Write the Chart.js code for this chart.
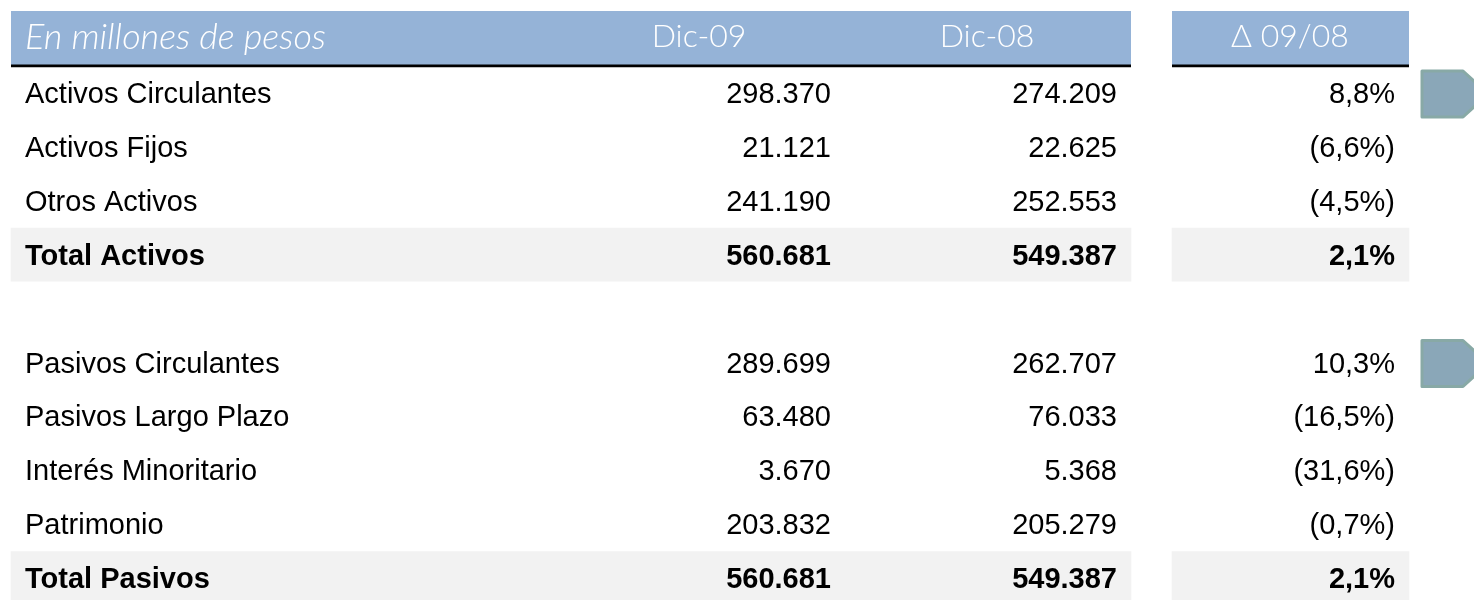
<!DOCTYPE html>
<html>
<head>
<meta charset="utf-8">
<script src="https://cdn.jsdelivr.net/npm/chart.js@4.4.1/dist/chart.umd.min.js"></script>
<style>
  html, body { margin: 0; padding: 0; background: #fff; }
  #wrap { width: 1474px; height: 600px; }
</style>
</head>
<body>
<div id="wrap"><canvas id="table" width="1474" height="600"></canvas></div>
<script>
// table content
const headerLabels = ['En millones de pesos', 'Dic-09', 'Dic-08', '\u0394 09/08'];
const rowLabels = [
  'Activos Circulantes', 'Activos Fijos', 'Otros Activos', 'Total Activos', '',
  'Pasivos Circulantes', 'Pasivos Largo Plazo', 'Interés Minoritario', 'Patrimonio', 'Total Pasivos'
];
const dic09 = [298370, 21121, 241190, 560681, null, 289699, 63480, 3670, 203832, 560681];
const dic08 = [274209, 22625, 252553, 549387, null, 262707, 76033, 5368, 205279, 549387];
const delta = [8.8, -6.6, -4.5, 2.1, null, 10.3, -16.5, -31.6, -0.7, 2.1];
const totalRows = ['Total Activos', 'Total Pasivos'];
const markerRows = ['Activos Circulantes', 'Pasivos Circulantes'];

// layout (x scale runs in pixel-like units, y scale in row units)
const SPAN_MAIN = [11, 1131];
const SPAN_DELTA = [1172, 1409];
const X_LABEL = 25;
const X_DIC09 = 831;
const X_DIC08 = 1117;
const X_DELTA = 1395;
const HEAD_CENTER = { dic09: 699, dic08: 987, delta: 1290 };

const rowPos = (i) => i + 1; // row 0 is the header
const fmtNum = (n) => String(n).replace(/\B(?=(\d{3})+(?!\d))/g, '.');
const fmtPct = (v) => {
  const s = Math.abs(v).toFixed(1).replace('.', ',') + '%';
  return v < 0 ? `(${s})` : s;
};

const totalBands = [];
rowLabels.forEach((label, i) => {
  if (totalRows.includes(label)) {
    totalBands.push({ x: SPAN_MAIN, y: rowPos(i) });
    totalBands.push({ x: SPAN_DELTA, y: rowPos(i) });
  }
});

const tableText = {
  id: 'tableText',
  afterDatasetsDraw(chart) {
    const { ctx, scales: { x, y } } = chart;
    ctx.save();

    // header
    const hy = y.getPixelForValue(0) - 2;
    ctx.fillStyle = '#ffffff';
    ctx.textBaseline = 'middle';
    ctx.textAlign = 'left';
    ctx.font = 'italic 300 36px Lato, "Open Sans", sans-serif';
    ctx.fillText(headerLabels[0], x.getPixelForValue(X_LABEL), hy);
    ctx.textAlign = 'center';
    ctx.font = '300 32px Lato, "Open Sans", sans-serif';
    ctx.fillText(headerLabels[1], x.getPixelForValue(HEAD_CENTER.dic09), hy);
    ctx.fillText(headerLabels[2], x.getPixelForValue(HEAD_CENTER.dic08), hy);
    ctx.fillText(headerLabels[3], x.getPixelForValue(HEAD_CENTER.delta), hy);

    // body rows
    ctx.fillStyle = '#000000';
    rowLabels.forEach((label, i) => {
      if (!label) return;
      const py = y.getPixelForValue(rowPos(i)) + 2;
      const bold = totalRows.includes(label);
      ctx.font = (bold ? 'bold ' : '') + '29px "Liberation Sans", Arial, sans-serif';
      ctx.textAlign = 'left';
      ctx.fillText(label, x.getPixelForValue(X_LABEL), py);
      ctx.textAlign = 'right';
      ctx.fillText(fmtNum(dic09[i]), x.getPixelForValue(X_DIC09), py);
      ctx.fillText(fmtNum(dic08[i]), x.getPixelForValue(X_DIC08), py);
      ctx.fillText(fmtPct(delta[i]), x.getPixelForValue(X_DELTA), py);
    });

    // side markers
    ctx.fillStyle = '#8aa7b8';
    ctx.strokeStyle = '#88a9a6';
    ctx.lineWidth = 3;
    ctx.lineJoin = 'round';
    markerRows.forEach((label) => {
      const cy = y.getPixelForValue(rowPos(rowLabels.indexOf(label))) + 1;
      const l = x.getPixelForValue(1422);
      const s = x.getPixelForValue(1463);
      const t = x.getPixelForValue(1488);
      ctx.beginPath();
      ctx.moveTo(l, cy - 23);
      ctx.lineTo(s, cy - 23);
      ctx.lineTo(t, cy);
      ctx.lineTo(s, cy + 23);
      ctx.lineTo(l, cy + 23);
      ctx.closePath();
      ctx.fill();
      ctx.stroke();
    });
    ctx.restore();
  }
};

new Chart(document.getElementById('table'), {
  type: 'bar',
  data: {
    datasets: [
      {
        label: 'header',
        data: [{ x: SPAN_MAIN, y: 0 }, { x: SPAN_DELTA, y: 0 }],
        backgroundColor: '#95b3d7',
        borderColor: '#000000',
        borderWidth: { top: 0, left: 0, right: 0, bottom: 3 },
        borderSkipped: false,
        barThickness: 56
      },
      {
        label: 'totals',
        data: totalBands,
        backgroundColor: '#f2f2f2',
        borderWidth: 0,
        barThickness: 53
      }
    ]
  },
  options: {
    indexAxis: 'y',
    responsive: false,
    animation: false,
    devicePixelRatio: 1,
    layout: { padding: 0 },
    plugins: { legend: { display: false }, tooltip: { enabled: false } },
    scales: {
      x: { type: 'linear', min: 0, max: 1474, display: false, offset: false },
      y: { type: 'linear', reverse: true, min: -0.725, max: 10.406, display: false, offset: false }
    },
    datasets: { bar: { grouped: false } }
  },
  plugins: [tableText]
});
</script>
</body>
</html>
